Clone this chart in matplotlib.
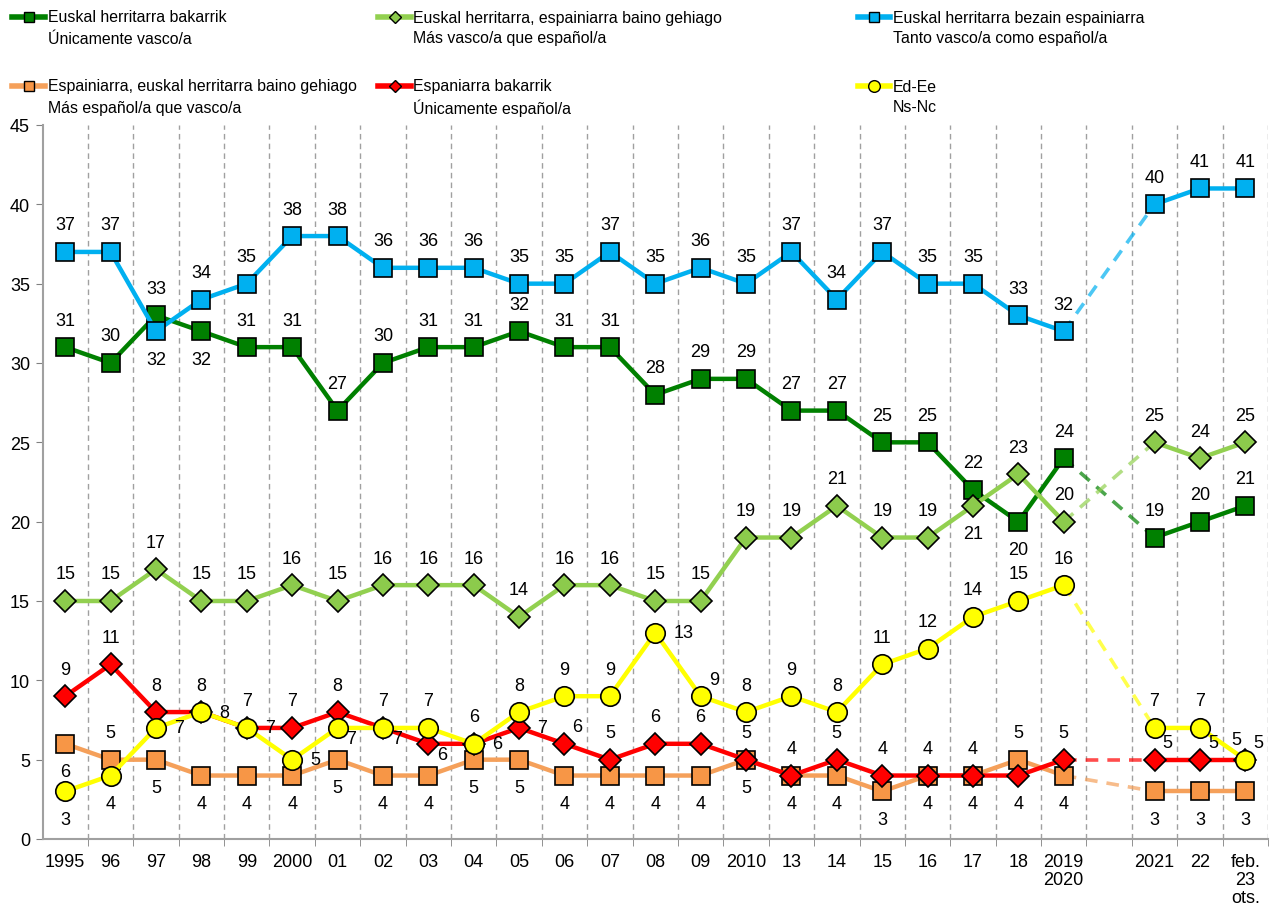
import matplotlib
matplotlib.use("Agg")
import matplotlib.pyplot as plt
from matplotlib.lines import Line2D
import numpy as np

plt.rcParams['font.family'] = ['Liberation Sans', 'DejaVu Sans']

# ---------- data ----------
cats = ['1995', '96', '97', '98', '99', '2000', '01', '02', '03', '04', '05', '06', '07',
        '08', '09', '2010', '13', '14', '15', '16', '17', '18', '2019\n2020', '',
        '2021', '22', 'feb.\n23\nots.']
vasco_solo = [31, 30, 33, 32, 31, 31, 27, 30, 31, 31, 32, 31, 31, 28, 29, 29, 27, 27, 25, 25,
              22, 20, 24, None, 19, 20, 21]
mas_vasco = [15, 15, 17, 15, 15, 16, 15, 16, 16, 16, 14, 16, 16, 15, 15, 19, 19, 21, 19, 19,
             21, 23, 20, None, 25, 24, 25]
tanto = [37, 37, 32, 34, 35, 38, 38, 36, 36, 36, 35, 35, 37, 35, 36, 35, 37, 34, 37, 35,
         35, 33, 32, None, 40, 41, 41]
mas_espanol = [6, 5, 5, 4, 4, 4, 5, 4, 4, 5, 5, 4, 4, 4, 4, 5, 4, 4, 3, 4, 4, 5, 4, None, 3, 3, 3]
espanol_solo = [9, 11, 8, 8, 7, 7, 8, 7, 6, 6, 7, 6, 5, 6, 6, 5, 4, 5, 4, 4, 4, 4, 5, None, 5, 5, 5]
nsnc = [3, 4, 7, 8, 7, 5, 7, 7, 7, 6, 8, 9, 9, 13, 9, 8, 9, 8, 11, 12, 14, 15, 16, None, 7, 7, 5]

# label placement per point (a=above, b=below, r=right, ra/rb=right up/down, la=left up)
lab_vs = ['a'] * 27; lab_vs[3] = 'b'; lab_vs[21] = 'b'
lab_mv = ['a'] * 27; lab_mv[20] = 'b'
lab_t = ['a'] * 27; lab_t[2] = 'b'
lab_me = ['b'] * 27; lab_me[1] = 'a'; lab_me[21] = 'a'
lab_es = ['a'] * 27
for i, p in {8: 'rb', 9: 'r', 10: 'r', 11: 'ra', 21: 'b', 24: 'ra', 25: 'ra', 26: 'la'}.items():
    lab_es[i] = p
lab_ns = ['a'] * 27
for i, p in {0: 'b', 1: 'b', 2: 'r', 3: 'r', 4: 'r', 5: 'r', 6: 'rb', 7: 'rb', 13: 'r',
             14: 'ra', 26: 'ra'}.items():
    lab_ns[i] = p

OFF = {'a': (0, 27, 'center'), 'b': (0, -28, 'center'), 'r': (18, 0, 'left'),
       'ra': (8, 17, 'left'), 'rb': (9, -11, 'left'), 'la': (-9, 20, 'center')}

series = [
    (vasco_solo, lab_vs, '#008000', '#008000', 's', 13),
    (mas_vasco, lab_mv, '#92D050', '#8CCB4C', 'D', 11),
    (tanto, lab_t, '#00B0F0', '#00B0F0', 's', 13),
    (mas_espanol, lab_me, '#F5A05A', '#F79646', 's', 13),
    (espanol_solo, lab_es, '#FF0000', '#FF0000', 'D', 11),
    (nsnc, lab_ns, '#FFFF00', '#FFFF00', 'o', 14),
]
legend_txt = [
    ("Euskal herritarra bakarrik", "Únicamente vasco/a"),
    ("Euskal herritarra, espainiarra baino gehiago", "Más vasco/a que español/a"),
    ("Euskal herritarra bezain espainiarra", "Tanto vasco/a como español/a"),
    ("Espainiarra, euskal herritarra baino gehiago", "Más español/a que vasco/a"),
    ("Espaniarra bakarrik", "Únicamente español/a"),
    ("Ed-Ee", "Ns-Nc"),
]

W, H = 1274, 912
fig = plt.figure(figsize=(W / 100, H / 100), dpi=100)
ax = fig.add_axes([42.5 / W, 72 / H, (1268 - 42.5) / W, (840 - 126) / H])
x = np.arange(len(cats))
GAP = 23

for k, (vals, labs, lc, mc, mk, ms) in enumerate(series):
    y = np.array([np.nan if v is None else v for v in vals], dtype=float)
    # solid segments
    ax.plot(x[:GAP], y[:GAP], color=lc, lw=3.2, marker=mk, ms=ms, mfc=mc, mec='black',
            mew=1.2, zorder=4 + k)
    ax.plot(x[GAP + 1:], y[GAP + 1:], color=lc, lw=3.2, marker=mk, ms=ms, mfc=mc, mec='black',
            mew=1.2, zorder=4 + k)
    # dashed bridge over the gap
    ax.plot([x[GAP - 1], x[GAP + 1]], [y[GAP - 1], y[GAP + 1]], color=lc, lw=2.6, alpha=0.7,
            ls=(0, (3.5, 2.5)), zorder=3)
    for i, v in enumerate(vals):
        if v is None:
            continue
        dx, dy, ha = OFF[labs[i]]
        ax.annotate(str(v), (i, v), xytext=(dx, dy), textcoords='offset pixels', ha=ha,
                    va='center', fontsize=13, zorder=20)

ax.set_xlim(-0.5, len(cats) - 0.5)
ax.set_ylim(0, 45)
ax.set_yticks(range(0, 46, 5))
ax.set_xticks(x)
ax.set_xticklabels(cats, fontsize=13, linespacing=1.1)
ax.set_xticks(np.arange(0.5, len(cats), 1), minor=True)
ax.tick_params(axis='x', which='major', length=0, pad=10)
ax.tick_params(axis='x', which='minor', length=5, color='#808080', direction='out')
ax.tick_params(axis='y', labelsize=13, length=5, color='#808080', pad=4)
ax.grid(axis='x', which='minor', ls=(0, (4, 3)), color='#A0A0A0', lw=1)
for s in ('top', 'right'):
    ax.spines[s].set_visible(False)
for s in ('left', 'bottom'):
    ax.spines[s].set_color('#A0A0A0')
    ax.spines[s].set_linewidth(1.5)

# ---------- legend (manual, two rows x three columns) ----------
cols = [(12, 45, 48), (378, 411, 413), (858, 890, 893)]
rows = [18, 87]
for k, (vals, labs, lc, mc, mk, ms) in enumerate(series):
    r, c = divmod(k, 3)
    x0, x1, xt = cols[c]
    yy = 1 - rows[r] / H
    fig.add_artist(Line2D([x0 / W, (x0 + x1) / 2 / W, x1 / W], [yy] * 3, transform=fig.transFigure,
                          color=lc, lw=4, marker=mk, ms=ms * 0.6, mfc=mc, mec='black', mew=1,
                          markevery=[1]))
    fig.text(xt / W, yy, legend_txt[k][0], fontsize=11.4, va='center', ha='left')
    fig.text(xt / W, 1 - (rows[r] + 21) / H, legend_txt[k][1], fontsize=11.4, va='center', ha='left')

fig.savefig("out.png", dpi=100)
